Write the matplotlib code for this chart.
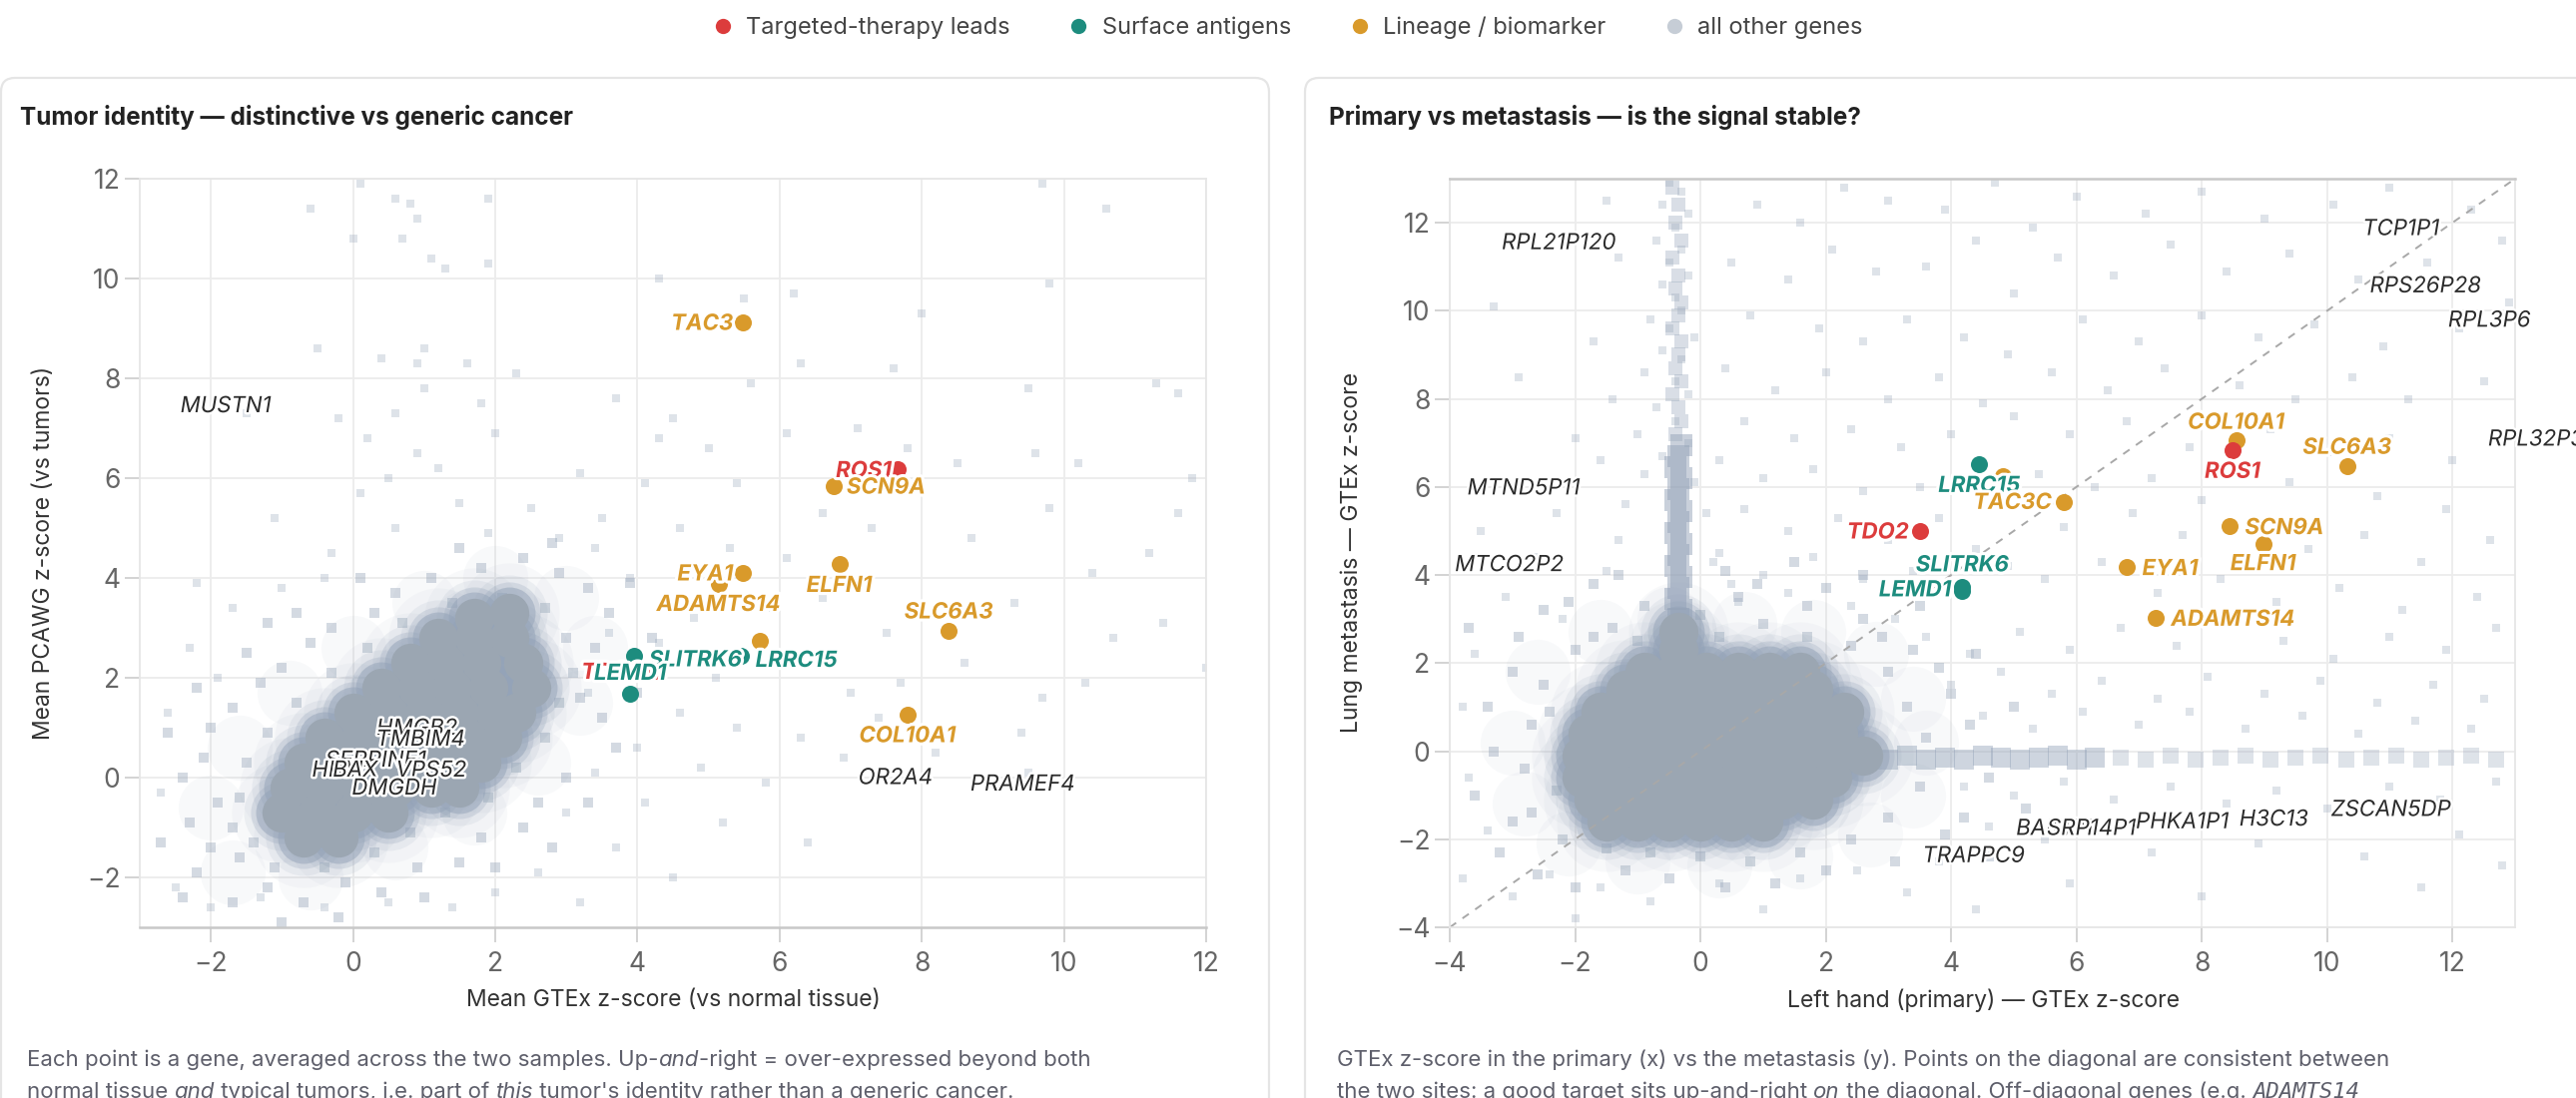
import matplotlib
matplotlib.use("Agg")
import matplotlib.pyplot as plt
import matplotlib.patheffects as pe
from matplotlib.patches import FancyBboxPatch
from matplotlib.lines import Line2D

plt.rcParams["font.family"] = ["Inter", "DejaVu Sans"]

# ---------------- data ----------------
group_names = ["Targeted-therapy leads", "Surface antigens", "Lineage / biomarker", "all other genes"]

# left: mean GTEx z (x) vs mean PCAWG z (y)
left_genes = ["TAC3", "ROS1", "SCN9A", "EYA1", "ADAMTS14", "ELFN1", "SLC6A3", "COL10A1", "",
              "SLITRK6", "LRRC15", "TDO2", "LEMD1"]
left_x = [5.49, 7.66, 6.76, 5.49, 5.14, 6.84, 8.38, 7.80, 5.72, 3.95, 5.45, 4.25, 3.90]
left_y = [9.13, 6.18, 5.85, 4.11, 3.88, 4.28, 2.95, 1.27, 2.75, 2.45, 2.44, 2.14, 1.68]
left_group = ["lineage", "targeted", "lineage", "lineage", "lineage", "lineage", "lineage", "lineage",
              "lineage", "surface", "surface", "targeted", "surface"]

# right: primary GTEx z (x) vs metastasis GTEx z (y)
right_genes = ["COL10A1", "ROS1", "SLC6A3", "LRRC15", "", "TAC3C", "TDO2", "SCN9A", "ELFN1",
               "EYA1", "SLITRK6", "LEMD1", "ADAMTS14"]
right_x = [8.55, 8.49, 10.32, 4.45, 4.83, 5.80, 3.50, 8.45, 8.98, 6.81, 4.18, 4.18, 7.27]
right_y = [7.07, 6.84, 6.48, 6.52, 6.25, 5.66, 5.01, 5.11, 4.70, 4.18, 3.63, 3.72, 3.03]
right_group = ["lineage", "targeted", "lineage", "surface", "lineage", "lineage", "targeted", "lineage",
               "lineage", "lineage", "surface", "surface", "lineage"]

# other labelled genes (text centres)
left_other = ["MUSTN1", "OR2A4", "PRAMEF4", "HMGB2", "TMBIM4", "SERPINE1", "HBM", "BAX", "VPS52", "DMGDH"]
left_other_x = [-1.79, 7.63, 9.42, 0.90, 0.95, 0.32, -0.22, 0.03, 1.10, 0.58]
left_other_y = [7.48, 0.03, -0.10, 1.02, 0.80, 0.38, 0.18, 0.18, 0.18, -0.18]

right_other = ["RPL21P120", "TCP1P1", "RPS26P28", "RPL3P6", "RPL32P34", "MTND5P11", "MTCO2P2",
               "BAK1P1", "SRP14P1", "PHKA1P1", "H3C13", "ZSCAN5DP", "TRAPPC9"]
right_other_x = [-2.26, 11.18, 11.57, 12.59, 13.45, -2.82, -3.05, 5.65, 6.24, 7.69, 9.15, 11.02, 4.36]
right_other_y = [11.58, 11.90, 10.60, 9.82, 7.12, 6.01, 4.27, -1.72, -1.72, -1.57, -1.51, -1.29, -2.34]

diag = [-4, 13]

# background genes: dense core, soft surround, streaks, fringe and scattered points
left_core = [(-0.7, -1.2), (-0.2, -1.2),
             (-1.0, -0.7), (-0.5, -0.7), (0.0, -0.7), (0.5, -0.7),
             (-0.9, -0.2), (-0.4, -0.2), (0.1, -0.2), (0.6, -0.2), (1.1, -0.2), (1.5, -0.2),
             (-0.7, 0.3), (-0.2, 0.3), (0.3, 0.3), (0.8, 0.3), (1.3, 0.3), (1.8, 0.3),
             (-0.4, 0.8), (0.1, 0.8), (0.6, 0.8), (1.1, 0.8), (1.6, 0.8), (2.1, 0.8),
             (0.0, 1.3), (0.5, 1.3), (1.0, 1.3), (1.5, 1.3), (2.0, 1.3), (2.3, 1.3),
             (0.4, 1.8), (0.9, 1.8), (1.4, 1.8), (1.9, 1.8), (2.5, 1.8),
             (0.8, 2.3), (1.3, 2.3), (1.8, 2.3), (2.4, 2.3),
             (1.2, 2.8), (1.7, 2.8), (2.2, 2.8), (1.7, 3.2), (2.2, 3.3)]
left_semi = [(-1.7, -1.9), (-0.6, -2.0), (0.6, -1.4), (1.7, -0.7), (2.6, 0.3), (3.2, 1.5), (3.4, 2.6),
             (3.0, 3.6), (2.0, 4.0), (1.0, 3.5), (0.0, 2.6), (-0.9, 1.7), (-1.6, 0.6), (-2.0, -0.6)]
left_fringe = [(-1.6, -1.6), (-1.1, -1.8), (-0.4, -1.8), (0.3, -1.5), (0.8, -1.1), (1.3, -0.7),
               (1.9, -0.4), (2.3, 0.2), (2.7, 0.8), (2.9, 1.5), (3.1, 2.1), (3.0, 2.8), (2.7, 3.4),
               (2.1, 3.6), (1.4, 3.5), (0.7, 3.1), (0.2, 2.6), (-0.3, 2.1), (-0.8, 1.5), (-1.2, 0.9),
               (-1.5, 0.3), (-1.6, -0.4), (-1.7, -1.0), (-2.2, -1.9), (-2.3, -0.9), (-2.1, 0.4),
               (-1.7, 1.4), (-1.0, 2.2), (-0.3, 3.0), (0.6, 3.7), (1.8, 4.2), (2.9, 4.1), (3.6, 3.3),
               (3.8, 2.2), (3.5, 1.2), (3.0, 0.0), (2.4, -1.0), (1.5, -1.7), (0.4, -2.3), (-0.7, -2.5),
               (-1.7, -2.5), (-1.4, -1.3), (-1.9, -0.5), (-1.3, 1.9), (-0.6, 2.7), (0.3, 3.3),
               (1.1, 4.0), (2.4, 4.4), (3.3, 3.8), (3.4, 2.6), (3.2, 1.6), (2.6, -0.5), (1.8, -1.2),
               (0.9, -1.8), (-0.1, -2.1), (-1.2, -2.2), (-2.0, -1.4), (-2.4, 0.0), (-2.0, 1.0),
               (-1.5, 2.5), (-0.8, 3.3), (0.1, 4.0), (1.5, 4.6), (2.8, 4.7), (3.9, 3.9), (4.2, 2.8),
               (4.0, 1.7), (3.7, 0.6), (3.3, -0.5), (2.8, -1.4), (2.0, -1.8), (1.0, -2.4), (-0.2, -2.8),
               (-1.0, -2.9), (-2.4, -2.4), (-2.7, -1.3), (-2.6, 0.9), (-2.2, 1.8), (-1.2, 3.1)]
left_sparse = [(0.1, 11.9), (-0.6, 11.4), (0.8, 11.5), (0.9, 11.2), (0.6, 11.6), (1.9, 11.6), (9.7, 11.9),
               (10.6, 11.4), (0.0, 10.8), (0.7, 10.8), (1.1, 10.4), (1.3, 10.2), (1.9, 10.3), (4.3, 10.0),
               (6.2, 9.7), (9.8, 9.9), (5.5, 9.6), (8.0, 9.3), (-0.5, 8.6), (0.4, 8.4), (0.9, 8.3),
               (1.0, 8.6), (1.6, 8.3), (2.3, 8.1), (1.0, 7.8), (0.6, 7.3), (1.8, 7.5), (-0.2, 7.2),
               (-1.5, 7.3), (0.2, 6.8), (0.9, 6.5), (2.0, 6.9), (1.2, 6.2), (0.5, 6.0), (0.1, 5.7),
               (1.5, 5.5), (2.5, 5.4), (-1.1, 5.2), (0.6, 5.0), (1.9, 4.9), (2.9, 4.8), (3.4, 4.6),
               (-0.3, 4.5), (3.7, 7.6), (4.5, 7.2), (5.6, 7.9), (6.3, 8.3), (7.6, 8.2), (9.5, 7.8),
               (11.3, 7.9), (11.6, 7.7), (4.3, 6.8), (5.0, 6.6), (6.1, 6.9), (7.1, 7.0), (8.5, 6.3),
               (9.6, 6.5), (10.2, 6.3), (11.8, 6.0), (3.2, 6.1), (4.1, 5.9), (5.4, 5.9), (6.6, 5.3),
               (7.8, 6.6), (9.8, 5.4), (11.6, 5.3), (3.5, 5.2), (4.6, 5.0), (5.3, 4.6), (6.1, 4.4),
               (7.3, 5.0), (8.7, 4.8), (10.4, 4.1), (11.2, 4.5), (3.9, 4.0), (4.4, 3.5), (4.8, 3.2),
               (5.9, 3.4), (6.6, 3.6), (7.5, 2.9), (8.9, 3.3), (9.3, 3.5), (10.7, 2.8), (11.4, 3.1),
               (3.6, 2.9), (4.3, 2.7), (5.1, 2.0), (6.2, 2.3), (7.0, 1.7), (7.7, 1.9), (8.6, 2.3),
               (9.7, 1.6), (10.3, 1.9), (12.0, 2.2), (3.3, 1.7), (4.6, 1.3), (5.4, 1.0), (6.3, 0.8),
               (7.4, 1.2), (8.2, 0.5), (9.4, 0.9), (4.0, 0.6), (4.9, 0.2), (5.8, -0.1), (6.9, 0.4),
               (9.5, 0.1), (3.4, 0.1), (4.1, -0.5), (5.2, -0.9), (6.4, -1.3), (3.0, -0.7), (3.7, -1.4),
               (4.5, -2.0), (2.6, -1.9), (2.0, -2.3), (1.4, -2.6), (3.2, -2.5), (-2.5, -2.2),
               (-2.7, -0.3), (-2.6, 1.3), (-2.3, 2.6), (-1.7, 3.4), (-1.0, 3.8), (-0.4, 4.0),
               (-2.0, -2.6), (-1.3, -2.4), (-0.4, -2.6), (0.5, -2.5), (-1.9, 2.0), (-2.2, 3.9)]

right_core = [(-1.5, -1.6), (-1.0, -1.6), (-0.5, -1.6), (0.0, -1.6), (0.5, -1.6), (1.0, -1.6),
              (-1.7, -1.1), (-1.2, -1.1), (-0.7, -1.1), (-0.2, -1.1), (0.3, -1.1), (0.8, -1.1), (1.3, -1.1),
              (1.8, -1.1),
              (-1.9, -0.6), (-1.4, -0.6), (-0.9, -0.6), (-0.4, -0.6), (0.1, -0.6), (0.6, -0.6), (1.1, -0.6),
              (1.6, -0.6), (2.1, -0.6),
              (-1.9, -0.1), (-1.4, -0.1), (-0.9, -0.1), (-0.4, -0.1), (0.1, -0.1), (0.6, -0.1), (1.1, -0.1),
              (1.6, -0.1), (2.1, -0.1), (2.6, -0.1),
              (-1.8, 0.4), (-1.3, 0.4), (-0.8, 0.4), (-0.3, 0.4), (0.2, 0.4), (0.7, 0.4), (1.2, 0.4),
              (1.7, 0.4), (2.2, 0.4),
              (-1.6, 0.9), (-1.1, 0.9), (-0.6, 0.9), (-0.1, 0.9), (0.4, 0.9), (0.9, 0.9), (1.4, 0.9),
              (1.9, 0.9), (2.3, 0.9),
              (-1.2, 1.4), (-0.7, 1.4), (-0.2, 1.4), (0.3, 1.4), (0.8, 1.4), (1.3, 1.4), (1.8, 1.4),
              (-0.9, 1.8), (-0.4, 1.8), (0.1, 1.8), (0.6, 1.8), (1.1, 1.8), (1.6, 1.8),
              (-0.35, 2.3), (-0.35, 2.7)]
right_semi = [(-2.6, 1.8), (-1.6, 2.7), (-0.5, 3.0), (0.7, 2.9), (1.8, 2.7), (2.8, 2.2), (3.4, 1.2),
              (3.6, 0.2), (3.4, -1.0), (2.7, -1.9), (1.6, -2.4), (0.3, -2.6), (-1.0, -2.5), (-2.1, -2.1),
              (-2.8, -1.2), (-3.0, 0.2)]
right_vstreak = [(-0.35, 3.0), (-0.3, 3.2), (-0.4, 3.45), (-0.35, 3.7), (-0.3, 3.95), (-0.4, 4.2),
                 (-0.35, 4.45), (-0.3, 4.7), (-0.4, 4.95), (-0.35, 5.2), (-0.3, 5.45), (-0.4, 5.7),
                 (-0.35, 5.95), (-0.3, 6.2), (-0.4, 6.45), (-0.35, 6.7), (-0.3, 6.95)]
right_vstreak_top = [(-0.4, 7.2), (-0.3, 7.5), (-0.35, 7.8), (-0.45, 8.1), (-0.3, 8.4), (-0.4, 8.7),
                     (-0.35, 9.0), (-0.3, 9.3), (-0.45, 9.6), (-0.35, 9.9), (-0.3, 10.2), (-0.4, 10.5),
                     (-0.35, 10.8), (-0.45, 11.2), (-0.3, 11.6), (-0.4, 12.0), (-0.35, 12.4), (-0.45, 12.8)]
right_hstreak = [(2.7, -0.15), (3.0, -0.2), (3.3, -0.1), (3.6, -0.2), (3.9, -0.15), (4.2, -0.2),
                 (4.5, -0.1), (4.8, -0.15), (5.1, -0.2), (5.4, -0.15), (5.7, -0.1), (6.0, -0.2),
                 (6.3, -0.15)]
right_hstreak_far = [(6.7, -0.15), (7.1, -0.2), (7.5, -0.1), (7.9, -0.2), (8.3, -0.15), (8.7, -0.1),
                     (9.1, -0.2), (9.5, -0.15), (9.9, -0.1), (10.3, -0.2), (10.7, -0.15), (11.1, -0.1),
                     (11.5, -0.2), (11.9, -0.15), (12.3, -0.1), (12.7, -0.2)]
right_fringe = [(-2.8, -0.4), (-2.7, 0.6), (-2.5, 1.5), (-2.0, 2.3), (-1.4, 2.8), (-0.9, 3.3), (0.3, 2.6),
                (1.0, 2.9), (1.7, 2.6), (2.4, 2.4), (3.0, 1.8), (3.3, 1.0), (3.6, 0.3), (3.5, -0.8),
                (3.0, -1.5), (2.4, -2.0), (1.6, -2.3), (0.8, -2.5), (0.0, -2.4), (-0.8, -2.3), (-1.5, -2.2),
                (-2.2, -2.0), (-2.7, -1.4), (0.6, 3.5), (1.7, 3.3), (2.6, 3.0), (3.4, 2.3), (4.0, 1.3),
                (4.2, -1.5), (-3.2, -2.3), (-2.6, -2.8), (-0.5, -2.9), (1.2, -3.0), (-3.3, 0.0),
                (-3.0, 1.8), (-2.5, 3.2), (-1.7, 3.8), (-2.3, -0.9), (-2.4, 0.9), (-1.7, 2.6),
                (-1.0, 2.5), (0.0, 3.1), (0.9, 3.8), (2.0, 3.7), (2.9, 2.6), (3.8, 1.9), (4.3, 0.6),
                (4.6, -0.6), (3.9, -1.9), (3.1, -2.5), (2.0, -2.7), (0.4, -3.1), (-1.2, -2.7),
                (-2.0, -3.1), (-3.0, -1.6), (-3.4, 1.0), (-2.9, 2.6), (-2.1, 3.4), (-1.3, 4.0),
                (0.4, 4.1), (1.5, 4.3), (2.6, 4.0), (3.5, 3.3), (4.4, 2.2), (5.0, 1.0), (5.2, -1.3),
                (4.6, -2.4), (-3.6, -1.0), (-3.7, 2.8)]
right_sparse = [(-0.5, 12.9), (-0.3, 12.7), (-0.6, 12.4), (-0.2, 12.2), (-0.4, 11.9), (-0.7, 11.6),
                (-0.3, 11.4), (-0.5, 11.1), (-0.2, 10.8), (-0.6, 10.6), (-0.4, 10.3), (-0.3, 10.0),
                (-0.8, 9.8), (-0.5, 9.6), (-0.1, 9.4), (-0.6, 9.1), (-0.3, 8.9), (-0.9, 8.6), (-0.4, 8.4),
                (-0.2, 8.1), (-0.7, 7.8), (-0.4, 7.5), (-1.0, 7.2), (-0.2, 7.0), (-0.6, 6.7), (-0.9, 6.3),
                (-0.1, 6.1), (-1.2, 5.6), (0.1, 5.4), (-1.3, 4.8), (0.3, 4.5), (-1.5, 4.1), (0.5, 3.8),
                (-1.5, 12.5), (-1.3, 11.2), (-1.7, 9.3), (-1.4, 8.0), (-2.0, 7.1), (-1.6, 6.6), (-2.3, 5.4),
                (-2.6, 4.4), (-3.1, 3.5), (-3.5, 5.0), (-2.9, 8.5), (-3.3, 10.1), (-2.2, 3.0), (-3.6, 2.2),
                (-3.8, 1.0), (-3.7, -0.6), (-3.4, -1.8), (-3.8, -2.9), (-3.0, -3.3), (-2.4, -2.8),
                (-1.6, -3.1), (-0.8, -3.4), (0.3, -3.0), (1.0, -3.6), (1.6, -2.9), (2.5, -2.7), (3.3, -3.2),
                (-2.0, -3.8), (0.9, 12.4), (1.6, 12.0), (2.3, 12.8), (3.0, 12.5), (3.9, 12.3), (4.7, 12.9),
                (5.3, 11.9), (0.5, 11.1), (1.4, 10.7), (2.1, 11.4), (2.8, 10.9), (3.6, 11.0), (4.4, 11.6),
                (5.0, 10.4), (0.8, 9.9), (1.9, 9.6), (2.6, 9.3), (3.3, 9.8), (4.2, 9.4), (4.9, 9.0),
                (0.4, 8.7), (1.2, 8.2), (2.0, 8.6), (3.0, 8.0), (3.8, 8.5), (4.5, 7.9), (0.7, 7.5),
                (1.5, 7.1), (2.4, 7.3), (3.2, 6.9), (4.0, 7.2), (5.0, 7.6), (0.3, 6.6), (1.0, 6.2),
                (1.8, 6.4), (2.6, 5.9), (3.5, 6.0), (0.7, 5.5), (1.4, 5.0), (2.2, 5.3), (3.0, 4.8),
                (3.8, 5.3), (4.4, 4.6), (0.2, 4.3), (1.0, 4.0), (1.8, 4.4), (2.6, 3.9), (3.4, 4.1),
                (4.2, 3.6), (4.9, 4.2), (0.6, 3.4), (1.4, 3.6), (2.4, 3.3), (3.1, 3.0), (6.0, 12.6),
                (7.1, 12.2), (8.0, 12.7), (9.0, 12.1), (10.1, 12.4), (11.0, 12.8), (12.3, 12.3),
                (12.8, 11.6), (5.7, 11.2), (6.6, 10.8), (7.5, 11.5), (8.4, 10.9), (9.4, 11.3), (10.5, 10.7),
                (11.6, 11.1), (6.1, 9.8), (7.0, 9.3), (8.0, 9.9), (8.9, 9.4), (9.8, 9.7), (10.9, 9.2),
                (12.1, 9.6), (5.6, 8.6), (6.5, 8.2), (7.4, 8.7), (8.6, 8.3), (9.5, 8.0), (10.4, 8.5),
                (11.3, 8.0), (12.5, 8.4), (5.9, 7.2), (6.8, 7.5), (7.8, 6.9), (9.1, 7.3), (10.0, 6.8),
                (11.0, 7.1), (12.0, 6.6), (12.8, 7.2), (5.4, 6.3), (6.3, 6.0), (7.2, 6.2), (8.0, 5.7),
                (9.4, 6.1), (10.8, 5.8), (11.9, 5.5), (5.8, 5.1), (6.9, 5.4), (7.7, 4.9), (9.7, 4.6),
                (10.6, 4.9), (11.5, 4.3), (12.6, 4.8), (5.5, 3.9), (6.4, 4.3), (7.3, 3.6), (8.3, 3.9),
                (9.2, 3.4), (10.2, 3.7), (11.2, 3.2), (12.4, 3.5), (12.9, 10.2), (3.6, 2.6), (4.3, 2.2),
                (5.1, 2.7), (5.9, 2.3), (6.7, 2.8), (7.6, 2.4), (8.4, 2.9), (9.3, 2.5), (10.1, 2.1),
                (11.0, 2.6), (11.9, 2.3), (12.7, 2.8), (4.0, 1.5), (4.8, 1.8), (5.6, 1.3), (6.4, 1.6),
                (7.3, 1.2), (8.1, 1.7), (9.0, 1.3), (9.9, 1.6), (10.8, 1.1), (11.7, 1.5), (12.5, 1.2),
                (4.5, 0.8), (5.3, 0.5), (6.1, 0.9), (7.0, 0.6), (7.8, 0.9), (8.7, 0.5), (9.6, 0.8),
                (10.5, 0.4), (11.4, 0.7), (12.3, 0.5), (4.2, -0.8), (5.0, -1.0), (5.8, -0.7), (6.6, -1.1),
                (7.5, -0.8), (8.4, -1.2), (9.2, -0.9), (10.0, -1.3), (11.0, -0.8), (11.8, -1.1),
                (12.7, -0.7), (4.6, -1.7), (5.5, -2.0), (6.3, -1.8), (7.2, -2.3), (8.9, -2.1), (10.6, -2.4),
                (12.1, -1.9), (3.8, -2.5), (5.9, -3.0), (8.0, -3.3), (11.5, -3.1), (4.4, -3.6), (12.8, -2.6)]

# ---------------- style ----------------
colors = {"targeted": "#dc3c3c", "surface": "#1d8c7e", "lineage": "#d99a2b"}
legend_colors = ["#dc3c3c", "#1d8c7e", "#d99a2b", "#c6cdd6"]
CLOUD = "#94a3b8"
CLOUD_DENSE = "#9ba6b2"

left_offsets = {"TAC3": (-10, 0), "ROS1": (-6, 0), "SCN9A": (13, 0), "EYA1": (-10, 0),
                "ADAMTS14": (0, -19), "ELFN1": (0, -20), "SLC6A3": (0, 20), "COL10A1": (0, -20),
                "SLITRK6": (15, -3), "LRRC15": (15, -3), "TDO2": (-12, 0), "LEMD1": (0, 22)}
right_offsets = {"COL10A1": (0, 19), "ROS1": (0, -20), "SLC6A3": (0, 20), "LRRC15": (0, -20),
                 "TAC3C": (-12, 1), "TDO2": (-11, 0), "SCN9A": (15, 0), "ELFN1": (0, -18),
                 "EYA1": (15, 0), "SLITRK6": (0, 28), "LEMD1": (-11, -1), "ADAMTS14": (15, 0)}

fig = plt.figure(figsize=(25.8, 11), dpi=100)
fig.patch.set_facecolor("white")

# pixel-space background axes for cards and free text
bg = fig.add_axes([0, 0, 1, 1], zorder=-10)
bg.set_xlim(0, 2580)
bg.set_ylim(1100, 0)
bg.axis("off")
bg.add_patch(FancyBboxPatch((1, 78), 1270, 1100, boxstyle="round,pad=0,rounding_size=14",
                            fc="white", ec="#e5e5e5", lw=1.6))
bg.add_patch(FancyBboxPatch((1307, 78), 1400, 1100, boxstyle="round,pad=0,rounding_size=14",
                            fc="white", ec="#e5e5e5", lw=1.6))

ax1 = fig.add_axes([140 / 2580, 171 / 1100, 1068 / 2580, 750 / 1100])
ax2 = fig.add_axes([1452 / 2580, 171 / 1100, 1067 / 2580, 750 / 1100])


def style_axes(ax, xlim, ylim, ticks_x, ticks_y, dark_side):
    ax.set_xlim(*xlim)
    ax.set_ylim(*ylim)
    ax.set_xticks(ticks_x)
    ax.set_yticks(ticks_y)
    ax.set_axisbelow(True)
    ax.grid(True, color="#ececec", lw=1.3)
    for side in ax.spines:
        ax.spines[side].set_color("#e6e6e6")
        ax.spines[side].set_linewidth(1.3)
    ax.spines[dark_side].set_color("#c8c8c8")
    ax.spines[dark_side].set_linewidth(1.8)
    ax.tick_params(axis="both", labelsize=19, labelcolor="#666666", color="#d0d0d0",
                   length=11, width=1.3)
    ax.tick_params(axis="x", pad=6)
    ax.tick_params(axis="y", pad=3)


def scatter_pts(ax, pts, size, col, alpha, marker="o"):
    xs, ys = zip(*pts)
    ax.scatter(xs, ys, s=size, color=col, alpha=alpha, lw=0, marker=marker, zorder=1)


def draw_blob(ax, core, semi):
    # soft surround and layered glow so the dense cloud fades out, then the opaque body
    scatter_pts(ax, semi, 2200, CLOUD, 0.06)
    scatter_pts(ax, core, 5200, CLOUD, 0.06)
    scatter_pts(ax, core, 3000, CLOUD, 0.12)
    scatter_pts(ax, core, 2000, CLOUD, 0.25)
    scatter_pts(ax, core, 1400, CLOUD, 0.5)
    scatter_pts(ax, core, 800, CLOUD_DENSE, 1.0)


halo = [pe.withStroke(linewidth=4.5, foreground="white")]


def draw_genes(ax, genes, xs, ys, grp, offsets):
    for g, x, y, k in zip(genes, xs, ys, grp):
        ax.scatter([x], [y], s=150, color=colors[k], lw=0, zorder=3)
    for g, x, y, k in zip(genes, xs, ys, grp):
        if not g:
            continue
        dx, dy = offsets[g]
        ha = "right" if dx < 0 else ("left" if dx > 0 else "center")
        ax.annotate(g, (x, y), xytext=(dx, dy), textcoords="offset pixels", ha=ha,
                    va="center_baseline", fontsize=16, fontweight="bold", fontstyle="italic",
                    color=colors[k], zorder=5, path_effects=halo)


def draw_other(ax, names, xs, ys):
    for n, x, y in zip(names, xs, ys):
        ax.text(x, y, n, ha="center", va="center_baseline", fontsize=16, fontstyle="italic",
                color="#2b2b2b", zorder=4,
                path_effects=[pe.withStroke(linewidth=3.5, foreground="white")])


# left panel
style_axes(ax1, (-3, 12), (-3, 12), range(-2, 13, 2), range(-2, 13, 2), "bottom")
scatter_pts(ax1, left_sparse, 28, CLOUD, 0.3, "s")
scatter_pts(ax1, left_fringe, 60, CLOUD, 0.4, "s")
draw_blob(ax1, left_core, left_semi)
draw_other(ax1, left_other, left_other_x, left_other_y)
draw_genes(ax1, left_genes, left_x, left_y, left_group, left_offsets)

# right panel
style_axes(ax2, (-4, 13), (-4, 13), range(-4, 13, 2), range(-4, 13, 2), "top")
scatter_pts(ax2, right_sparse, 28, CLOUD, 0.3, "s")
scatter_pts(ax2, right_fringe, 60, CLOUD, 0.4, "s")
scatter_pts(ax2, right_hstreak_far, 120, CLOUD, 0.3, "s")
scatter_pts(ax2, right_hstreak, 200, CLOUD, 0.45, "s")
scatter_pts(ax2, right_vstreak_top, 110, CLOUD, 0.35, "s")
scatter_pts(ax2, right_vstreak, 240, CLOUD, 0.5, "s")
draw_blob(ax2, right_core, right_semi)
ax2.plot(diag, diag, ls=(0, (4, 4)), color="#a8a8a8", lw=1.4, zorder=2)
draw_other(ax2, right_other, right_other_x, right_other_y)
draw_genes(ax2, right_genes, right_x, right_y, right_group, right_offsets)

# titles and axis titles
bg.text(20, 118, "Tumor identity — distinctive vs generic cancer", fontsize=17.5, fontweight="bold",
        color="#222222", va="center")
bg.text(1331, 118, "Primary vs metastasis — is the signal stable?", fontsize=17.5, fontweight="bold",
        color="#222222", va="center")
bg.text(674, 1002, "Mean GTEx z-score (vs normal tissue)", fontsize=16.5, color="#333333",
        ha="center", va="center")
bg.text(1986, 1002, "Left hand (primary) — GTEx z-score", fontsize=16.5, color="#333333",
        ha="center", va="center")
bg.text(44, 554, "Mean PCAWG z-score (vs tumors)", fontsize=16.5, color="#333333",
        ha="center", va="center", rotation=90)
bg.text(1354, 554, "Lung metastasis — GTEx z-score", fontsize=16.5, color="#333333",
        ha="center", va="center", rotation=90)


def rich_line(x, y, parts):
    cap = dict(fontsize=16, color="#5e5f6b")
    txt, kw = parts[0]
    t = bg.text(x, y, txt, va="center", **cap, **kw)
    for txt, kw in parts[1:]:
        t = bg.annotate(txt, xy=(1, 0), xycoords=t, va="bottom", ha="left", **cap, **kw)


it = {"fontstyle": "italic"}
rm = {}
rich_line(27, 1062, [("Each point is a gene, averaged across the two samples. Up-", rm), ("and", it),
                     ("-right = over-expressed beyond both", rm)])
rich_line(27, 1094, [("normal tissue ", rm), ("and", it), (" typical tumors, i.e. part of ", rm),
                     ("this", it), (" tumor's identity rather than a generic cancer.", rm)])
rich_line(1339, 1062, [("GTEx z-score in the primary (x) vs the metastasis (y). Points on the diagonal "
                        "are consistent between", rm)])
rich_line(1339, 1094, [("the two sites: a good target sits up-and-right ", rm), ("on", it),
                       (" the diagonal. Off-diagonal genes (e.g. ", rm),
                       ("ADAMTS14", {"fontstyle": "italic", "family": "DejaVu Sans Mono"})])

# legend
handles = [Line2D([], [], ls="", marker="o", markersize=11, markerfacecolor=c, markeredgewidth=0)
           for c in legend_colors]
fig.legend(handles, group_names, loc="center", bbox_to_anchor=(0.5, 1 - 28 / 1100), ncol=4,
           frameon=False, fontsize=17, handlelength=0.8, handletextpad=0.6, columnspacing=2.5,
           labelcolor="#444444")

fig.savefig("out.png", dpi=100)
